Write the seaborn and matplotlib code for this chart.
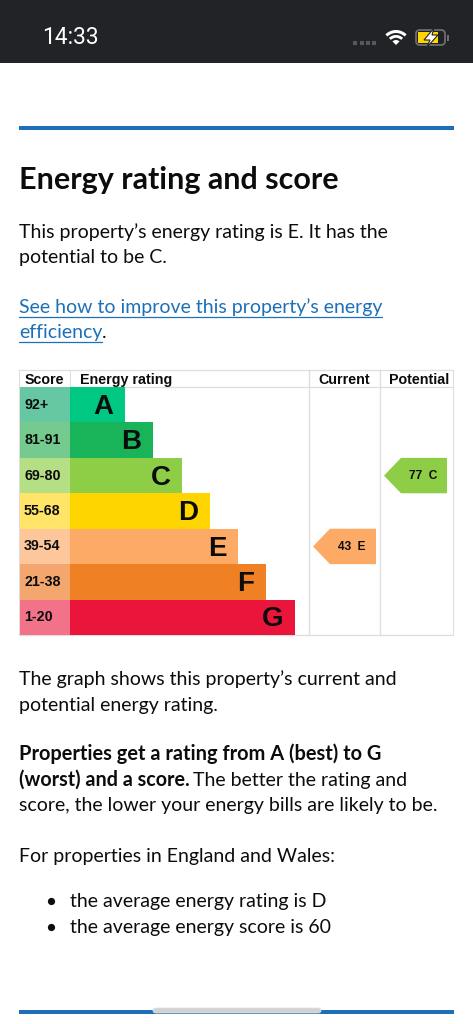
import matplotlib
matplotlib.use("Agg")
import matplotlib.pyplot as plt
import pandas as pd
import seaborn as sns
from matplotlib.patches import FancyBboxPatch, Polygon, Rectangle, Wedge

# 数据
ratings = ["A", "B", "C", "D", "E", "F", "G"]
score_bands = ["92+", "81-91", "69-80", "55-68", "39-54", "21-38", "1-20"]
bar_lengths = [55, 83, 112, 140, 168, 196, 225]
bar_colors = ["#00c781", "#19b459", "#8dce46", "#ffd500", "#fcaa65", "#ef8023", "#e9153b"]
band_colors = ["#66c8a2", "#75cb8f", "#b5df85", "#ffe468", "#fdc79b", "#f3a76f", "#f2728a"]
current_score, current_rating = 43, "E"
potential_score, potential_rating = 77, "C"

W, H = 473, 1024
BODY = "Lato"
HELV = "Liberation Sans"
INK = "#0b0c0c"
BLUE = "#1d70b8"
GRID = "#dedede"

sns.set_theme(style="white")
fig = plt.figure(figsize=(W / 100, H / 100), dpi=100, facecolor="white")


def px_axes(x0, y0, x1, y1):
    a = fig.add_axes([x0 / W, 1 - y1 / H, (x1 - x0) / W, (y1 - y0) / H])
    a.patch.set_alpha(0)
    return a


# 页面背景层，坐标就是像素
bg = px_axes(0, 0, W, H)
bg.set_xlim(0, W)
bg.set_ylim(H, 0)
bg.axis("off")

# 状态栏
bg.add_patch(Rectangle((0, 0), W, 63, color="#212327", lw=0))
bg.text(42, 44.5, "14:33", color="white", fontsize=16.4, family="Roboto", va="baseline")
for x in [355, 361.5, 368, 374]:
    bg.add_patch(Rectangle((x - 2, 40.5), 4, 4, color="#55575a", lw=0))
for r, wd in [(15, 3.0), (10, 2.8)]:
    bg.add_patch(Wedge((396, 45), r, 225, 315, width=wd, color="white", lw=0))
bg.add_patch(Wedge((396, 45), 5, 225, 315, color="white", lw=0))
bg.add_patch(FancyBboxPatch((416, 30), 29, 15, boxstyle="round,pad=0,rounding_size=4",
                            fc="none", ec="#6b6d70", lw=1.3))
bg.add_patch(Rectangle((418, 32), 20, 11, color="#ffd500", lw=0))
bg.add_patch(Rectangle((447, 34.5), 1.5, 6, color="#6b6d70", lw=0))
bg.add_patch(Polygon([[434, 28], [424, 40], [430, 40], [427, 47], [438, 35], [432, 35]],
                     closed=True, fc="white", ec="#212327", lw=0.8))

# 蓝色分隔线
for y in [128, 1012]:
    bg.add_patch(Rectangle((19, y - 1.7), 435, 3.4, color=BLUE, lw=0))
bg.add_patch(FancyBboxPatch((153, 1008), 168, 5, boxstyle="round,pad=0,rounding_size=2.5",
                            fc="#d2d2d2", ec="#e2e2e2", lw=0.5))


def body(x, y, s, **kw):
    kw.setdefault("color", INK)
    kw.setdefault("fontsize", 14.07)
    return bg.text(x, y, s, family=BODY, va="baseline", **kw)


body(19, 188.5, "Energy rating and score", fontsize=22, weight="bold")
body(19, 238, "This property\u2019s energy rating is E. It has the")
body(19, 263, "potential to be C.")
body(19, 313, "See how to improve this property\u2019s energy", color=BLUE)
body(19, 338, "efficiency", color=BLUE)
body(102, 338, ".")
bg.plot([19, 382], [316.5, 316.5], color=BLUE, lw=0.9)
bg.plot([19, 102], [341.5, 341.5], color=BLUE, lw=0.9)
body(19, 685, "The graph shows this property\u2019s current and")
body(19, 711, "potential energy rating.")
body(19, 760, "Properties get a rating from A (best) to G", weight="bold", fontsize=14.4)
body(19, 786, "(worst) and a score.", weight="bold", fontsize=14.2)
body(193, 786, "The better the rating and")
body(19, 811, "score, the lower your energy bills are likely to be.")
body(19, 862, "For properties in England and Wales:")
for y, s in [(907, "the average energy rating is D"), (933, "the average energy score is 60")]:
    bg.plot([51], [y - 6], "o", color=INK, ms=5.2, mew=0)
    body(70, y, s)

# 表格线
for y in [370, 387, 635]:
    bg.plot([19, 453], [y, y], color=GRID, lw=0.9)
for x in [19, 309, 379.5, 453]:
    bg.plot([x, x], [370, 635], color=GRID, lw=1.0 if x in (309, 379.5) else 0.8)
bg.plot([70, 70], [370, 387], color=GRID, lw=0.8)

for x, s in [(44, "Score"), (79.5, "Energy rating"), (344.5, "Current"), (419, "Potential")]:
    bg.text(x, 384, s, family=HELV, weight="bold", fontsize=10.3, color=INK, va="baseline",
            ha="left" if s == "Energy rating" else "center")

df = pd.DataFrame({"rating": ratings, "band": score_bands, "length": bar_lengths})

# 分数列
ax_band = px_axes(19.5, 387, 70, 635)
sns.barplot(data=df.assign(full=1), y="band", x="full", hue="band", palette=band_colors,
            legend=False, width=1, saturation=1, linewidth=0, ax=ax_band)
ax_band.set_xlim(0, 1)
ax_band.axis("off")
for i, s in enumerate(score_bands):
    ax_band.text(0.09, i, s, family=HELV, weight="bold", fontsize=10.3, color=INK, va="center")

# 评级条，x 轴单位为像素
ax = px_axes(70, 387, 453, 635)
sns.barplot(data=df, y="rating", x="length", hue="rating", palette=bar_colors,
            legend=False, width=1, saturation=1, linewidth=0, ax=ax)
ax.set_xlim(0, 383)
ax.axis("off")
for i, (r, v) in enumerate(zip(ratings, bar_lengths)):
    ax.text(v - 11.5, i + 0.06, r, family=HELV, weight="bold", fontsize=20, color=INK,
            ha="right", va="center")


def arrow(left, right, rating, score):
    i = ratings.index(rating)
    pts = [[left, i], [left + 17, i - 0.5], [right, i - 0.5], [right, i + 0.5], [left + 17, i + 0.5]]
    ax.add_patch(Polygon(pts, closed=True, color=bar_colors[i], lw=0))
    ax.text(left + 39, i + 0.02, f"{score}  {rating}", family=HELV, weight="bold", fontsize=8.6,
            color=INK, ha="center", va="center")


arrow(243, 306, current_rating, current_score)
arrow(314, 377, potential_rating, potential_score)

fig.savefig("out.png", dpi=100)
